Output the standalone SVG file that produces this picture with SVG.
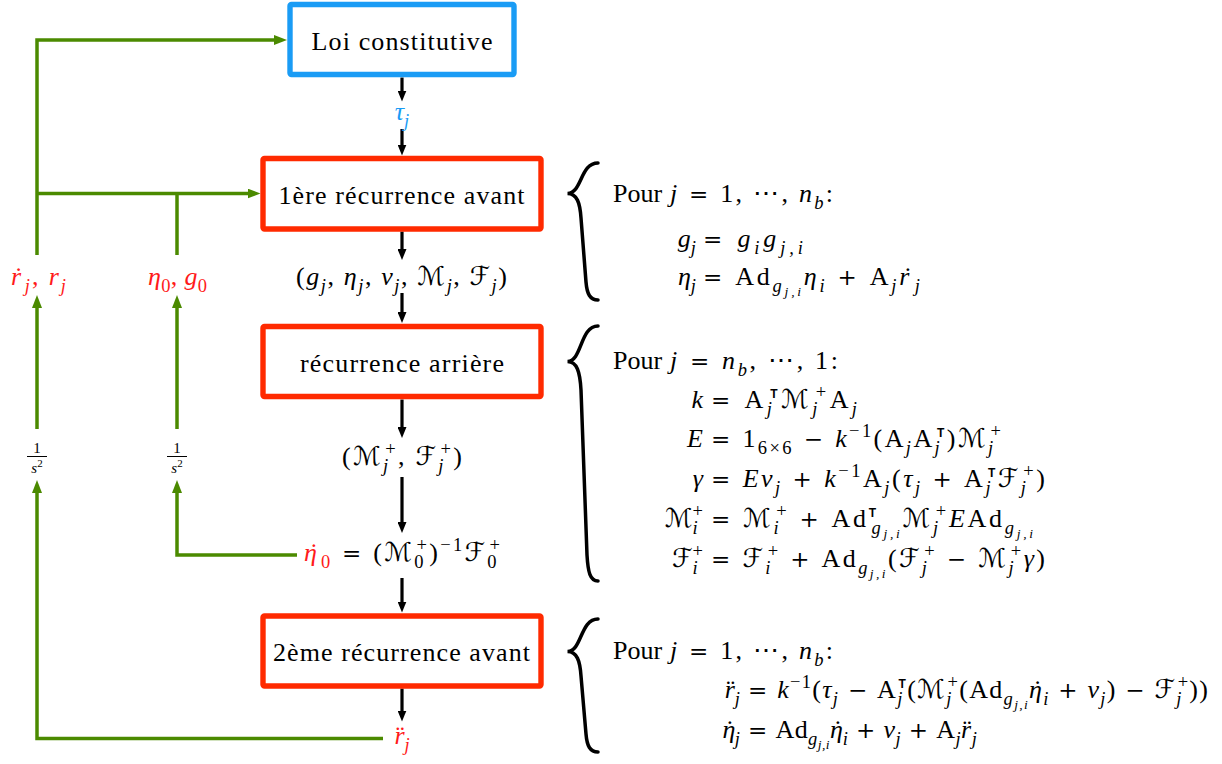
<svg xmlns="http://www.w3.org/2000/svg" width="1222" height="764" viewBox="0 0 1222 764">
<style>
.m{font-family:"Liberation Serif","DejaVu Serif",serif;font-size:26px;fill:#000}
.i{font-style:italic}
.s{font-size:18.5px}
.ss{font-size:13.5px}
.t{font-family:"Liberation Sans",sans-serif;font-weight:bold;font-size:12px;font-style:normal}
.c{font-family:"DejaVu Serif","DejaVu Sans",serif;font-style:normal}
.o{font-family:"DejaVu Serif","DejaVu Sans",serif;font-size:23px;font-style:normal}
.lbl{font-family:"Liberation Serif","DejaVu Serif",serif;font-size:26px;fill:#000}
.r{fill:#ff1a1a}
.b{fill:#1a9cf5}
.box{fill:#fff;stroke-width:5.4}
.red{stroke:#ff2a00}
.blue{stroke:#1a9cf5}
.blk{fill:none;stroke:#000;stroke-width:3.2}
.grn{fill:none;stroke:#4b8a00;stroke-width:3.5}
.brace{fill:none;stroke:#000;stroke-width:3.5;stroke-linecap:round}
</style>
<defs>
<marker id="ab" markerUnits="userSpaceOnUse" markerWidth="11" markerHeight="9" refX="5" refY="4.5" orient="auto" viewBox="0 0 11 9"><path d="M0,0 L11,4.5 L0,9 z" fill="#000"/></marker>
<marker id="ag" markerUnits="userSpaceOnUse" markerWidth="13" markerHeight="10" refX="7" refY="5" orient="auto" viewBox="0 0 13 10"><path d="M0,0 L13,5 L0,10 z" fill="#4b8a00"/></marker>
</defs>
<rect width="1222" height="764" fill="#fff"/>

<g id="connectors">
<path class="blk" marker-end="url(#ab)" d="M402,77.5 V95.5"/>
<path class="blk" marker-end="url(#ab)" d="M402,129 V149.5"/>
<path class="blk" marker-end="url(#ab)" d="M402,231.5 V254"/>
<path class="blk" marker-end="url(#ab)" d="M402,293 V317"/>
<path class="blk" marker-end="url(#ab)" d="M402,399.5 V432"/>
<path class="blk" marker-end="url(#ab)" d="M402,477 V527"/>
<path class="blk" marker-end="url(#ab)" d="M402,578 V606.5"/>
<path class="blk" marker-end="url(#ab)" d="M402,688.5 V715.5"/>
<path class="grn" marker-end="url(#ag)" d="M37,255 V40 H281"/>
<path class="grn" marker-end="url(#ag)" d="M37,193.5 H254.5"/>
<path class="grn" d="M177,255 V193.5"/>
<path class="grn" marker-end="url(#ag)" d="M37,429 V301"/>
<path class="grn" marker-end="url(#ag)" d="M177,429 V301"/>
<path class="grn" marker-end="url(#ag)" d="M383,738.5 H37 V486"/>
<path class="grn" marker-end="url(#ag)" d="M297,555 H177 V486"/>
</g>

<g id="loi">
<rect class="box blue" x="290" y="4.5" width="224" height="70" rx="1.5"/>
<text class="lbl" x="311.5" y="49.5" textLength="181" lengthAdjust="spacing">Loi constitutive</text>
</g>
<g id="rec1">
<rect class="box red" x="263" y="158.5" width="278" height="70.5" rx="1.5"/>
<text class="lbl" x="278.5" y="203.5" textLength="246" lengthAdjust="spacing">1ère récurrence avant</text>
</g>
<g id="rec2">
<rect class="box red" x="263" y="326.5" width="278" height="70" rx="1.5"/>
<text class="lbl" x="300" y="371.5" textLength="204" lengthAdjust="spacing">récurrence arrière</text>
</g>
<g id="rec3">
<rect class="box red" x="263" y="616" width="278" height="70" rx="1.5"/>
<text class="lbl" x="273" y="660.5" textLength="257" lengthAdjust="spacing">2ème récurrence avant</text>
</g>

<g id="tau">
<text class="m b" x="402" y="120" text-anchor="middle"><tspan class="i">τ</tspan><tspan class="s i" dy="6.5">j</tspan></text>
</g>
<g id="tuple">
<text class="m" x="401.5" y="285" text-anchor="middle" textLength="211" lengthAdjust="spacing">(<tspan class="i">g</tspan><tspan class="s i" dy="6.5">j</tspan><tspan dy="-6.5">, </tspan><tspan class="i">η</tspan><tspan class="s i" dy="6.5">j</tspan><tspan dy="-6.5">, </tspan><tspan class="i">ν</tspan><tspan class="s i" dy="6.5">j</tspan><tspan dy="-6.5">, </tspan><tspan class="c">ℳ</tspan><tspan class="s i" dy="6.5">j</tspan><tspan dy="-6.5">, </tspan><tspan class="c">ℱ</tspan><tspan class="s i" dy="6.5">j</tspan><tspan dy="-6.5">)</tspan></text>
</g>
<g id="mfplus">
<text class="m" x="402" y="465" text-anchor="middle" textLength="120" lengthAdjust="spacing">(<tspan class="c">ℳ</tspan><tspan class="s i" dy="6.5">j</tspan><tspan class="s" dx="-5.1" dy="-17">+</tspan><tspan dy="10.5">, </tspan><tspan class="c">ℱ</tspan><tspan class="s i" dy="6.5">j</tspan><tspan class="s" dx="-5.1" dy="-17">+</tspan><tspan dy="10.5">)</tspan></text>
</g>
<g id="eta0">
<text class="m" x="304" y="561" textLength="196" lengthAdjust="spacing"><tspan class="i r">η</tspan><tspan class="r" dx="-9.8">˙</tspan><tspan class="s r" dx="0.6" dy="6.5">0</tspan><tspan class="o" dy="-6.5"> = </tspan><tspan>(</tspan><tspan class="c">ℳ</tspan><tspan class="s" dy="6.5">0</tspan><tspan class="s" dx="-9.25" dy="-17">+</tspan><tspan dy="10.5">)</tspan><tspan class="s" dy="-10.5">−1</tspan><tspan class="c" dy="10.5">ℱ</tspan><tspan class="s" dy="6.5">0</tspan><tspan class="s" dx="-9.25" dy="-17">+</tspan></text>
</g>
<g id="rddot">
<text class="m r" x="402" y="744" text-anchor="middle"><tspan class="i">r</tspan><tspan dx="-8.8">¨</tspan><tspan class="s i" dy="6.5">j</tspan></text>
</g>
<g id="rlabel">
<text class="m r" x="38.5" y="285" text-anchor="middle" textLength="55" lengthAdjust="spacing"><tspan class="i">r</tspan><tspan dx="-8.8">˙</tspan><tspan class="s i" dy="6.5">j</tspan><tspan dy="-6.5">, </tspan><tspan class="i">r</tspan><tspan class="s i" dy="6.5">j</tspan></text>
</g>
<g id="glabel">
<text class="m r" x="177.5" y="285" text-anchor="middle" textLength="59" lengthAdjust="spacing"><tspan class="i">η</tspan><tspan class="s" dy="6.5">0</tspan><tspan dy="-6.5">, </tspan><tspan class="i">g</tspan><tspan class="s" dy="6.5">0</tspan></text>
</g>
<g id="int1">
<text class="m" style="font-size:15px" x="37" y="453" text-anchor="middle">1</text>
<line x1="27" y1="456.5" x2="47" y2="456.5" stroke="#000" stroke-width="1"/>
<text class="m" style="font-size:15px" x="37" y="473" text-anchor="middle"><tspan class="i">s</tspan><tspan style="font-size:11px" dy="-6">2</tspan></text>
</g>
<g id="int2">
<text class="m" style="font-size:15px" x="177" y="453" text-anchor="middle">1</text>
<line x1="167" y1="456.5" x2="187" y2="456.5" stroke="#000" stroke-width="1"/>
<text class="m" style="font-size:15px" x="177" y="473" text-anchor="middle"><tspan class="i">s</tspan><tspan style="font-size:11px" dy="-6">2</tspan></text>
</g>

<g id="eqs1">
<path class="brace" d="M598,163 C580,163 582,193.5 567.5,193.5 C577,193.5 580,203 581,218 L586,282 C587,294 590,300 598,300"/>
<text class="m" x="613" y="202">Pour</text>
<text class="m" x="670" y="202" textLength="163" lengthAdjust="spacing"><tspan class="i">j</tspan><tspan class="o"> = </tspan>1, ⋯, <tspan class="i">n</tspan><tspan class="s i" dy="6.5">b</tspan><tspan dy="-6.5">:</tspan></text>
<text class="m" x="696" y="247" text-anchor="end"><tspan class="i">g</tspan><tspan class="s i" dy="6.5">j</tspan></text>
<text class="m" x="703" y="247" textLength="100" lengthAdjust="spacing"><tspan class="o">= </tspan><tspan class="i">g</tspan><tspan class="s i" dy="6.5">i</tspan><tspan class="i" dy="-6.5">g</tspan><tspan class="s i" dy="6.5">j,i</tspan></text>
<text class="m" x="696" y="285" text-anchor="end"><tspan class="i">η</tspan><tspan class="s i" dy="6.5">j</tspan></text>
<text class="m" x="703" y="285" textLength="217" lengthAdjust="spacing"><tspan class="o">= </tspan>Ad<tspan class="s i" dy="6.5">g</tspan><tspan class="ss i" dy="4">j,i</tspan><tspan class="i" dy="-10.5">η</tspan><tspan class="s i" dy="6.5">i</tspan><tspan class="o" dy="-6.5"> + </tspan>A<tspan class="s i" dy="6.5">j</tspan><tspan class="i" dy="-6.5">r</tspan><tspan dx="-8.8">˙</tspan><tspan class="s i" dy="6.5">j</tspan></text>
</g>

<g id="eqs2">
<path class="brace" d="M598,326 C580,326 582,361.5 567.5,361.5 C577,361.5 580,372 581,390 L587,555 C588,572 590,581 598,581"/>
<text class="m" x="613" y="369">Pour</text>
<text class="m" x="670" y="369" textLength="168" lengthAdjust="spacing"><tspan class="i">j</tspan><tspan class="o"> = </tspan><tspan class="i">n</tspan><tspan class="s i" dy="6.5">b</tspan><tspan dy="-6.5">, ⋯, 1:</tspan></text>
<text class="m i" x="703" y="408" text-anchor="end">k</text>
<text class="m" x="711" y="408" textLength="146" lengthAdjust="spacing"><tspan class="o">= </tspan>A<tspan class="s i" dy="6.5">j</tspan><tspan class="t" dx="-5.1" dy="-17">T</tspan><tspan class="c" dy="10.5">ℳ</tspan><tspan class="s i" dy="6.5">j</tspan><tspan class="s" dx="-5.1" dy="-17">+</tspan><tspan dy="10.5">A</tspan><tspan class="s i" dy="6.5">j</tspan></text>
<text class="m i" x="703" y="447" text-anchor="end">E</text>
<text class="m" x="711" y="447" textLength="290" lengthAdjust="spacing"><tspan class="o">= </tspan>1<tspan class="s" dy="6.5">6×6</tspan><tspan class="o" dy="-6.5"> − </tspan><tspan class="i">k</tspan><tspan class="s" dy="-10.5">−1</tspan><tspan dy="10.5">(A</tspan><tspan class="s i" dy="6.5">j</tspan><tspan dy="-6.5">A</tspan><tspan class="s i" dy="6.5">j</tspan><tspan class="t" dx="-5.1" dy="-17">T</tspan><tspan dy="10.5">)</tspan><tspan class="c">ℳ</tspan><tspan class="s i" dy="6.5">j</tspan><tspan class="s" dx="-5.1" dy="-17">+</tspan></text>
<text class="m i" x="703" y="487" text-anchor="end">γ</text>
<text class="m" x="711" y="487" textLength="334" lengthAdjust="spacing"><tspan class="o">= </tspan><tspan class="i">Eν</tspan><tspan class="s i" dy="6.5">j</tspan><tspan class="o" dy="-6.5"> + </tspan><tspan class="i">k</tspan><tspan class="s" dy="-10.5">−1</tspan><tspan dy="10.5">A</tspan><tspan class="s i" dy="6.5">j</tspan><tspan dy="-6.5">(</tspan><tspan class="i">τ</tspan><tspan class="s i" dy="6.5">j</tspan><tspan class="o" dy="-6.5"> + </tspan>A<tspan class="s i" dy="6.5">j</tspan><tspan class="t" dx="-5.1" dy="-17">T</tspan><tspan class="c" dy="10.5">ℱ</tspan><tspan class="s i" dy="6.5">j</tspan><tspan class="s" dx="-5.1" dy="-17">+</tspan><tspan dy="10.5">)</tspan></text>
<text class="m" x="703" y="527" text-anchor="end"><tspan class="c">ℳ</tspan><tspan class="s i" dy="6.5">i</tspan><tspan class="s" dx="-5.1" dy="-17">+</tspan></text>
<text class="m" x="711" y="527" textLength="322" lengthAdjust="spacing"><tspan class="o">= </tspan><tspan class="c">ℳ</tspan><tspan class="s i" dy="6.5">i</tspan><tspan class="s" dx="-5.1" dy="-17">+</tspan><tspan class="o" dy="10.5"> + </tspan>Ad<tspan class="t" dy="-10.5">T</tspan><tspan class="s i" dx="-7.3" dy="17">g</tspan><tspan class="ss i" dy="4">j,i</tspan><tspan class="c" dy="-10.5">ℳ</tspan><tspan class="s i" dy="6.5">j</tspan><tspan class="s" dx="-5.1" dy="-17">+</tspan><tspan class="i" dy="10.5">E</tspan>Ad<tspan class="s i" dy="6.5">g</tspan><tspan class="ss i" dy="4">j,i</tspan></text>
<text class="m" x="703" y="567" text-anchor="end"><tspan class="c">ℱ</tspan><tspan class="s i" dy="6.5">i</tspan><tspan class="s" dx="-5.1" dy="-17">+</tspan></text>
<text class="m" x="711" y="567" textLength="334" lengthAdjust="spacing"><tspan class="o">= </tspan><tspan class="c">ℱ</tspan><tspan class="s i" dy="6.5">i</tspan><tspan class="s" dx="-5.1" dy="-17">+</tspan><tspan class="o" dy="10.5"> + </tspan>Ad<tspan class="s i" dy="6.5">g</tspan><tspan class="ss i" dy="4">j,i</tspan><tspan dy="-10.5">(</tspan><tspan class="c">ℱ</tspan><tspan class="s i" dy="6.5">j</tspan><tspan class="s" dx="-5.1" dy="-17">+</tspan><tspan class="o" dy="10.5"> − </tspan><tspan class="c">ℳ</tspan><tspan class="s i" dy="6.5">j</tspan><tspan class="s" dx="-5.1" dy="-17">+</tspan><tspan class="i" dy="10.5">γ</tspan>)</text>
</g>

<g id="eqs3">
<path class="brace" d="M598,619 C580,619 582,651.5 567.5,651.5 C577,651.5 580,661 581,676 L586,734 C587,746 590,752 598,752"/>
<text class="m" x="613" y="659">Pour</text>
<text class="m" x="670" y="659" textLength="163" lengthAdjust="spacing"><tspan class="i">j</tspan><tspan class="o"> = </tspan>1, ⋯, <tspan class="i">n</tspan><tspan class="s i" dy="6.5">b</tspan><tspan dy="-6.5">:</tspan></text>
<text class="m" x="740" y="698" text-anchor="end"><tspan class="i">r</tspan><tspan dx="-8.8">¨</tspan><tspan class="s i" dy="6.5">j</tspan></text>
<text class="m" x="748" y="698" textLength="460" lengthAdjust="spacing"><tspan class="o">= </tspan><tspan class="i">k</tspan><tspan class="s" dy="-10.5">−1</tspan><tspan dy="10.5">(</tspan><tspan class="i">τ</tspan><tspan class="s i" dy="6.5">j</tspan><tspan class="o" dy="-6.5"> − </tspan>A<tspan class="s i" dy="6.5">j</tspan><tspan class="t" dx="-5.1" dy="-17">T</tspan><tspan dy="10.5">(</tspan><tspan class="c">ℳ</tspan><tspan class="s i" dy="6.5">j</tspan><tspan class="s" dx="-5.1" dy="-17">+</tspan><tspan dy="10.5">(Ad</tspan><tspan class="s i" dy="6.5">g</tspan><tspan class="ss i" dy="4">j,i</tspan><tspan class="i" dy="-10.5">η</tspan><tspan dx="-9.8">˙</tspan><tspan class="s i" dy="6.5">i</tspan><tspan class="o" dy="-6.5"> + </tspan><tspan class="i">ν</tspan><tspan class="s i" dy="6.5">j</tspan><tspan dy="-6.5">)</tspan><tspan class="o"> − </tspan><tspan class="c">ℱ</tspan><tspan class="s i" dy="6.5">j</tspan><tspan class="s" dx="-5.1" dy="-17">+</tspan><tspan dy="10.5">))</tspan></text>
<text class="m" x="740" y="738" text-anchor="end"><tspan class="i">η</tspan><tspan dx="-9.8">˙</tspan><tspan class="s i" dx="0.6" dy="6.5">j</tspan></text>
<text class="m" x="748" y="738" textLength="229" lengthAdjust="spacing"><tspan class="o">= </tspan>Ad<tspan class="s i" dy="6.5">g</tspan><tspan class="ss i" dy="4">j,i</tspan><tspan class="i" dy="-10.5">η</tspan><tspan dx="-9.8">˙</tspan><tspan class="s i" dy="6.5">i</tspan><tspan class="o" dy="-6.5"> + </tspan><tspan class="i">ν</tspan><tspan class="s i" dy="6.5">j</tspan><tspan class="o" dy="-6.5"> + </tspan>A<tspan class="s i" dy="6.5">j</tspan><tspan class="i" dy="-6.5">r</tspan><tspan dx="-8.8">¨</tspan><tspan class="s i" dy="6.5">j</tspan></text>
</g>
</svg>
